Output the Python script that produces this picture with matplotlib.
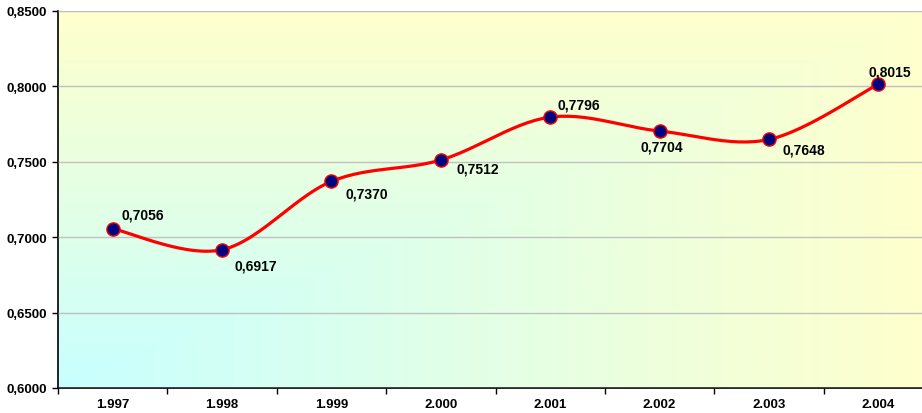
import numpy as np
import matplotlib.pyplot as plt
from matplotlib.colors import LinearSegmentedColormap

# data
years = ['1.997', '1.998', '1.999', '2.000', '2.001', '2.002', '2.003', '2.004']
values = [0.7056, 0.6917, 0.7370, 0.7512, 0.7796, 0.7704, 0.7648, 0.8015]
y_ticks = [0.60, 0.65, 0.70, 0.75, 0.80, 0.85]

# label offsets in points (dx, dy, ha, va)
offsets = [(6, 5, 'left', 'bottom'), (9, -6, 'left', 'top'), (10, -4, 'left', 'top'),
           (11, -1, 'left', 'top'), (5, 4, 'left', 'bottom'), (-14, -6, 'left', 'top'),
           (10, -2, 'left', 'top'), (-7, 4, 'left', 'bottom')]

plt.rcParams['font.family'] = ['Liberation Sans', 'DejaVu Sans']
plt.rcParams['font.weight'] = 'bold'

fig = plt.figure(figsize=(9.22, 4.14), dpi=100)
ax = fig.add_axes([58/922, 1 - 389/414, 875/922, 377/414])

n = len(values)
x = np.arange(n)

# gradient from the bottom-left corner (cyan -> yellow)
gx, gy = np.meshgrid(np.linspace(0, 1, 400), np.linspace(0, 1, 300))
t = np.maximum(gx, gy)
cmap = LinearSegmentedColormap.from_list('bg', ['#c8ffff', '#ffffcc'])
ax.imshow(t, extent=[-0.5, n - 0.5, 0.6, 0.85], origin='lower', cmap=cmap,
          aspect='auto', zorder=0, interpolation='bilinear')

# smoothed line (catmull-rom like excel)
pts = np.column_stack([x, values]).astype(float)
sx, sy = [], []
for i in range(n - 1):
    p0 = pts[max(i - 1, 0)]
    p1 = pts[i]
    p2 = pts[i + 1]
    p3 = pts[min(i + 2, n - 1)]
    for tt in np.linspace(0, 1, 30):
        c = 0.5 * ((2 * p1) + (-p0 + p2) * tt + (2 * p0 - 5 * p1 + 4 * p2 - p3) * tt ** 2
                   + (-p0 + 3 * p1 - 3 * p2 + p3) * tt ** 3)
        sx.append(c[0])
        sy.append(c[1])
ax.plot(sx, sy, color='#ff0000', lw=2.3, zorder=3, solid_capstyle='round')
ax.plot(x, values, ls='none', marker='o', ms=9.5, mfc='#000080', mec='#ff0000',
        mew=1, zorder=4)

for xi, v, (dx, dy, ha, va) in zip(x, values, offsets):
    ax.annotate(f'{v:.4f}'.replace('.', ','), (xi, v), xytext=(dx, dy),
                textcoords='offset points', ha=ha, va=va, fontsize=10,
                fontweight='bold', zorder=5)

ax.set_xlim(-0.5, n - 0.5)
ax.set_ylim(0.6, 0.85)
ax.set_yticks(y_ticks)
ax.set_yticklabels([f'{v:.4f}'.replace('.', ',') for v in y_ticks], fontsize=9.5)
ax.set_xticks(x)
ax.set_xticklabels(years, fontsize=9.5)
ax.set_xticks(np.arange(n) - 0.5, minor=True)
ax.tick_params(axis='x', which='major', length=0, pad=7)
ax.tick_params(axis='x', which='minor', length=4, width=1, direction='out')
ax.tick_params(axis='y', length=4, width=1, direction='out', pad=4)
ax.grid(axis='y', color='#c0c0c0', lw=1, zorder=1)
ax.set_axisbelow(False)
for sp in ['top', 'right']:
    ax.spines[sp].set_visible(False)
ax.spines['left'].set_linewidth(1.2)
ax.spines['bottom'].set_linewidth(1.2)
for gl in ax.get_ygridlines():
    gl.set_zorder(1)

fig.savefig('out.png', dpi=100)
